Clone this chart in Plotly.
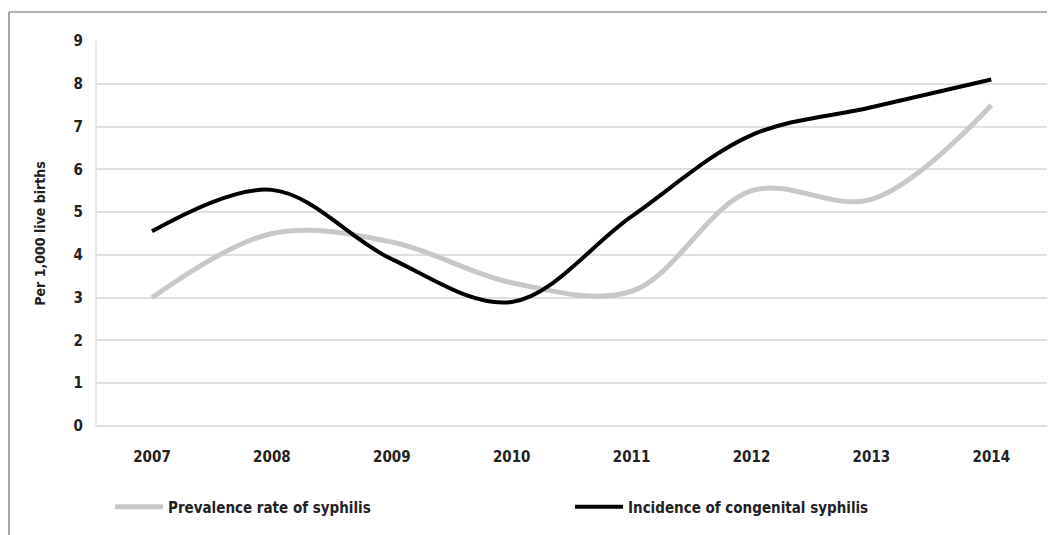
import plotly.graph_objects as go

years = ["2007", "2008", "2009", "2010", "2011", "2012", "2013", "2014"]
prevalence = [3.0, 4.5, 4.3, 3.35, 3.15, 5.5, 5.3, 7.5]
incidence = [4.55, 5.52, 3.9, 2.9, 4.9, 6.8, 7.45, 8.1]
y_ticks = [0, 1, 2, 3, 4, 5, 6, 7, 8, 9]

FONT = "Liberation Sans Narrow, DejaVu Sans Condensed, Arial Narrow, sans-serif"

fig = go.Figure()
fig.add_trace(go.Scatter(
    x=years, y=prevalence, mode="lines", name="<b>Prevalence rate of syphilis</b>",
    line=dict(color="#c8c8c8", width=5, shape="spline", smoothing=1.0),
))
fig.add_trace(go.Scatter(
    x=years, y=incidence, mode="lines", name="<b>Incidence of congenital syphilis</b>",
    line=dict(color="#000000", width=4, shape="spline", smoothing=1.0),
))

# page body has an 8px margin; lay out in screen pixels and compensate
OFF = 8
SW, SH = 1055, 535
W, H = SW - OFF, SH - OFF
pl, pr, pt, pb = 96, 1048, 41, 426  # plot area in screen pixels
ml, mt = pl - OFF, pt - OFF
mr, mb = W - (pr - OFF), H - (pb - OFF)
pw, ph = pr - pl, pb - pt

def px(x):
    return (x - pl) / pw

def py(y):
    return (pb - y) / ph

fig.update_layout(
    width=W, height=H,
    margin=dict(l=ml, r=mr, t=mt, b=mb, autoexpand=False),
    paper_bgcolor="white", plot_bgcolor="white",
    font=dict(family=FONT, size=15, color="#222222"),
    showlegend=True,
    legend=dict(
        orientation="h", x=px(110), xanchor="left", y=py(507), yanchor="middle",
        entrywidth=397, entrywidthmode="pixels",
        font=dict(family=FONT, size=15, color="#222222"),
        itemwidth=48, bgcolor="rgba(0,0,0,0)",
    ),
    xaxis=dict(
        type="category", categoryorder="array", categoryarray=years,
        range=[-0.467, 7.473], automargin=False,
        showgrid=False, showline=False, zeroline=False,
        ticks="", ticklabelstandoff=20,
        tickfont=dict(family=FONT, size=15, color="#222222"),
        tickprefix="<b>", ticksuffix="</b>",
    ),
    yaxis=dict(
        range=[0, 9], tickvals=y_ticks, ticktext=[f"<b>{v}</b>" for v in y_ticks],
        automargin=False,
        showgrid=True, gridcolor="#e0e0e0", gridwidth=1.5,
        zeroline=True, zerolinecolor="#e0e0e0", zerolinewidth=1.5,
        showline=False, ticks="", ticklabelstandoff=12,
        tickfont=dict(family=FONT, size=15, color="#222222"),
        title=dict(text="<b>Per 1,000 live births</b>", standoff=24,
                   font=dict(family=FONT, size=14, color="#222222")),
    ),
    shapes=[
        dict(type="line", xref="paper", yref="paper", x0=0, x1=0, y0=0, y1=1,
             line=dict(color="#e0e0e0", width=1.5)),
        dict(type="line", xref="paper", yref="paper", x0=1, x1=1, y0=0, y1=1,
             line=dict(color="#e0e0e0", width=1.5)),
        dict(type="line", xref="paper", yref="paper", x0=px(9), x1=px(SW), y0=py(12), y1=py(12),
             line=dict(color="#666666", width=1.2)),
        dict(type="line", xref="paper", yref="paper", x0=px(9), x1=px(9), y0=py(12), y1=py(SH),
             line=dict(color="#666666", width=1.2)),
    ],
)

fig.write_html("out.html")
